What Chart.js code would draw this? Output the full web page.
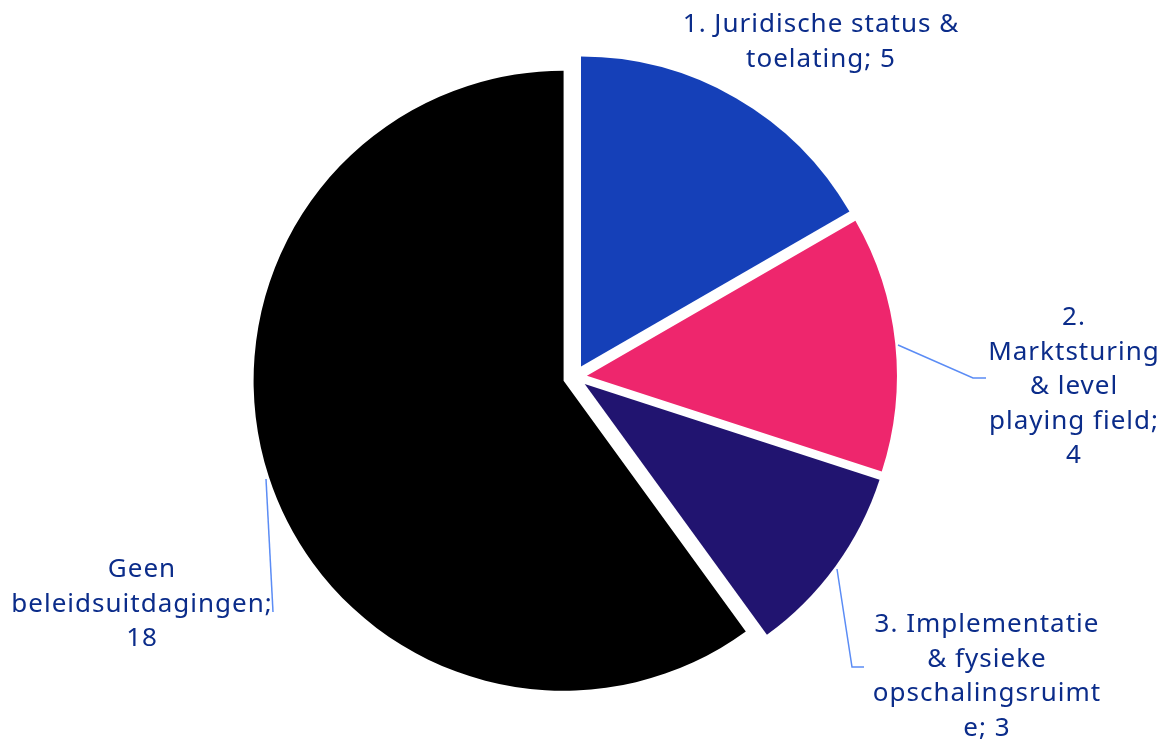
<!DOCTYPE html>
<html>
<head>
<meta charset="utf-8">
<script src="https://cdn.jsdelivr.net/npm/chart.js@4"></script>
<style>
  html, body { margin: 0; padding: 0; background: #fff; }
  #wrap { width: 1162px; height: 739px; position: relative; }
</style>
</head>
<body>
<div id="wrap"><canvas id="pieChart"></canvas></div>
<script>
// data
const categories = [
  "1. Juridische status & toelating",
  "2. Marktsturing & level playing field",
  "3. Implementatie & fysieke opschalingsruimte",
  "Geen beleidsuitdagingen"
];
const values = [5, 4, 3, 18];
// how each label is broken over lines (value is appended at the end)
const labelLines = [
  ["1. Juridische status &", "toelating;"],
  ["2.", "Marktsturing", "& level", "playing field;"],
  ["3. Implementatie", "& fysieke", "opschalingsruimt", "e;"],
  ["Geen", "beleidsuitdagingen;"]
];
const sliceColors = ["#1540b8", "#ee266d", "#211470", "#000000"];

// label placement: centre x, first baseline, leader polyline
const labelPlace = [
  { x: 821, y: 32, lead: null, sameLine: true },
  { x: 1074, y: 325, lead: [[898, 345], [973, 378], [986, 378]] },
  { x: 987, y: 632, lead: [[837, 569], [852, 667], [864, 667]], sameLine: true },
  { x: 142, y: 577, lead: [[266, 479], [273, 612]] }
];

const EXPLODE = 12;

// push every slice out along its own bisector (the v4 "offset" option
// grows the radius instead of moving the slice, so do it here)
const explode = {
  id: "explode",
  beforeDatasetsDraw(chart) {
    const area = chart.chartArea;
    const cx = (area.left + area.right) / 2;
    const cy = (area.top + area.bottom) / 2;
    chart.getDatasetMeta(0).data.forEach((arc) => {
      const mid = (arc.startAngle + arc.endAngle) / 2;
      arc.x = cx + Math.cos(mid) * EXPLODE;
      arc.y = cy + Math.sin(mid) * EXPLODE;
    });
  }
};

const pieLabels = {
  id: "pieLabels",
  afterDraw(chart) {
    const ctx = chart.ctx;
    ctx.save();
    ctx.strokeStyle = "#5b8cf5";
    ctx.lineWidth = 1.5;
    labelPlace.forEach((p) => {
      if (!p.lead) return;
      ctx.beginPath();
      p.lead.forEach((pt, i) => (i ? ctx.lineTo(pt[0], pt[1]) : ctx.moveTo(pt[0], pt[1])));
      ctx.stroke();
    });
    ctx.fillStyle = "#0b2c8a";
    ctx.font = "26px 'Noto Sans'";
    ctx.letterSpacing = "1px";
    ctx.textAlign = "center";
    ctx.textBaseline = "alphabetic";
    labelLines.forEach((lines, i) => {
      const all = lines.slice();
      if (labelPlace[i].sameLine) all[all.length - 1] += " " + values[i];
      else all.push(String(values[i]));
      all.forEach((t, k) => ctx.fillText(t, labelPlace[i].x, labelPlace[i].y + k * 34.5));
    });
    ctx.restore();
  }
};

const ctx = document.getElementById("pieChart").getContext("2d");
const pieChart = new Chart(ctx, {
  type: "pie",
  data: {
    labels: categories,
    datasets: [
      {
        data: values,
        backgroundColor: sliceColors,
        borderWidth: 0,
        offset: 0,
        hoverOffset: 0
      }
    ]
  },
  options: {
    responsive: true,
    maintainAspectRatio: false,
    animation: false,
    radius: 310,
    layout: { padding: { left: 0, right: 12, top: 15, bottom: 0 } },
    plugins: {
      legend: { display: false },
      tooltip: { enabled: false }
    },
    events: []
  },
  plugins: [explode, pieLabels]
});
</script>
</body>
</html>
